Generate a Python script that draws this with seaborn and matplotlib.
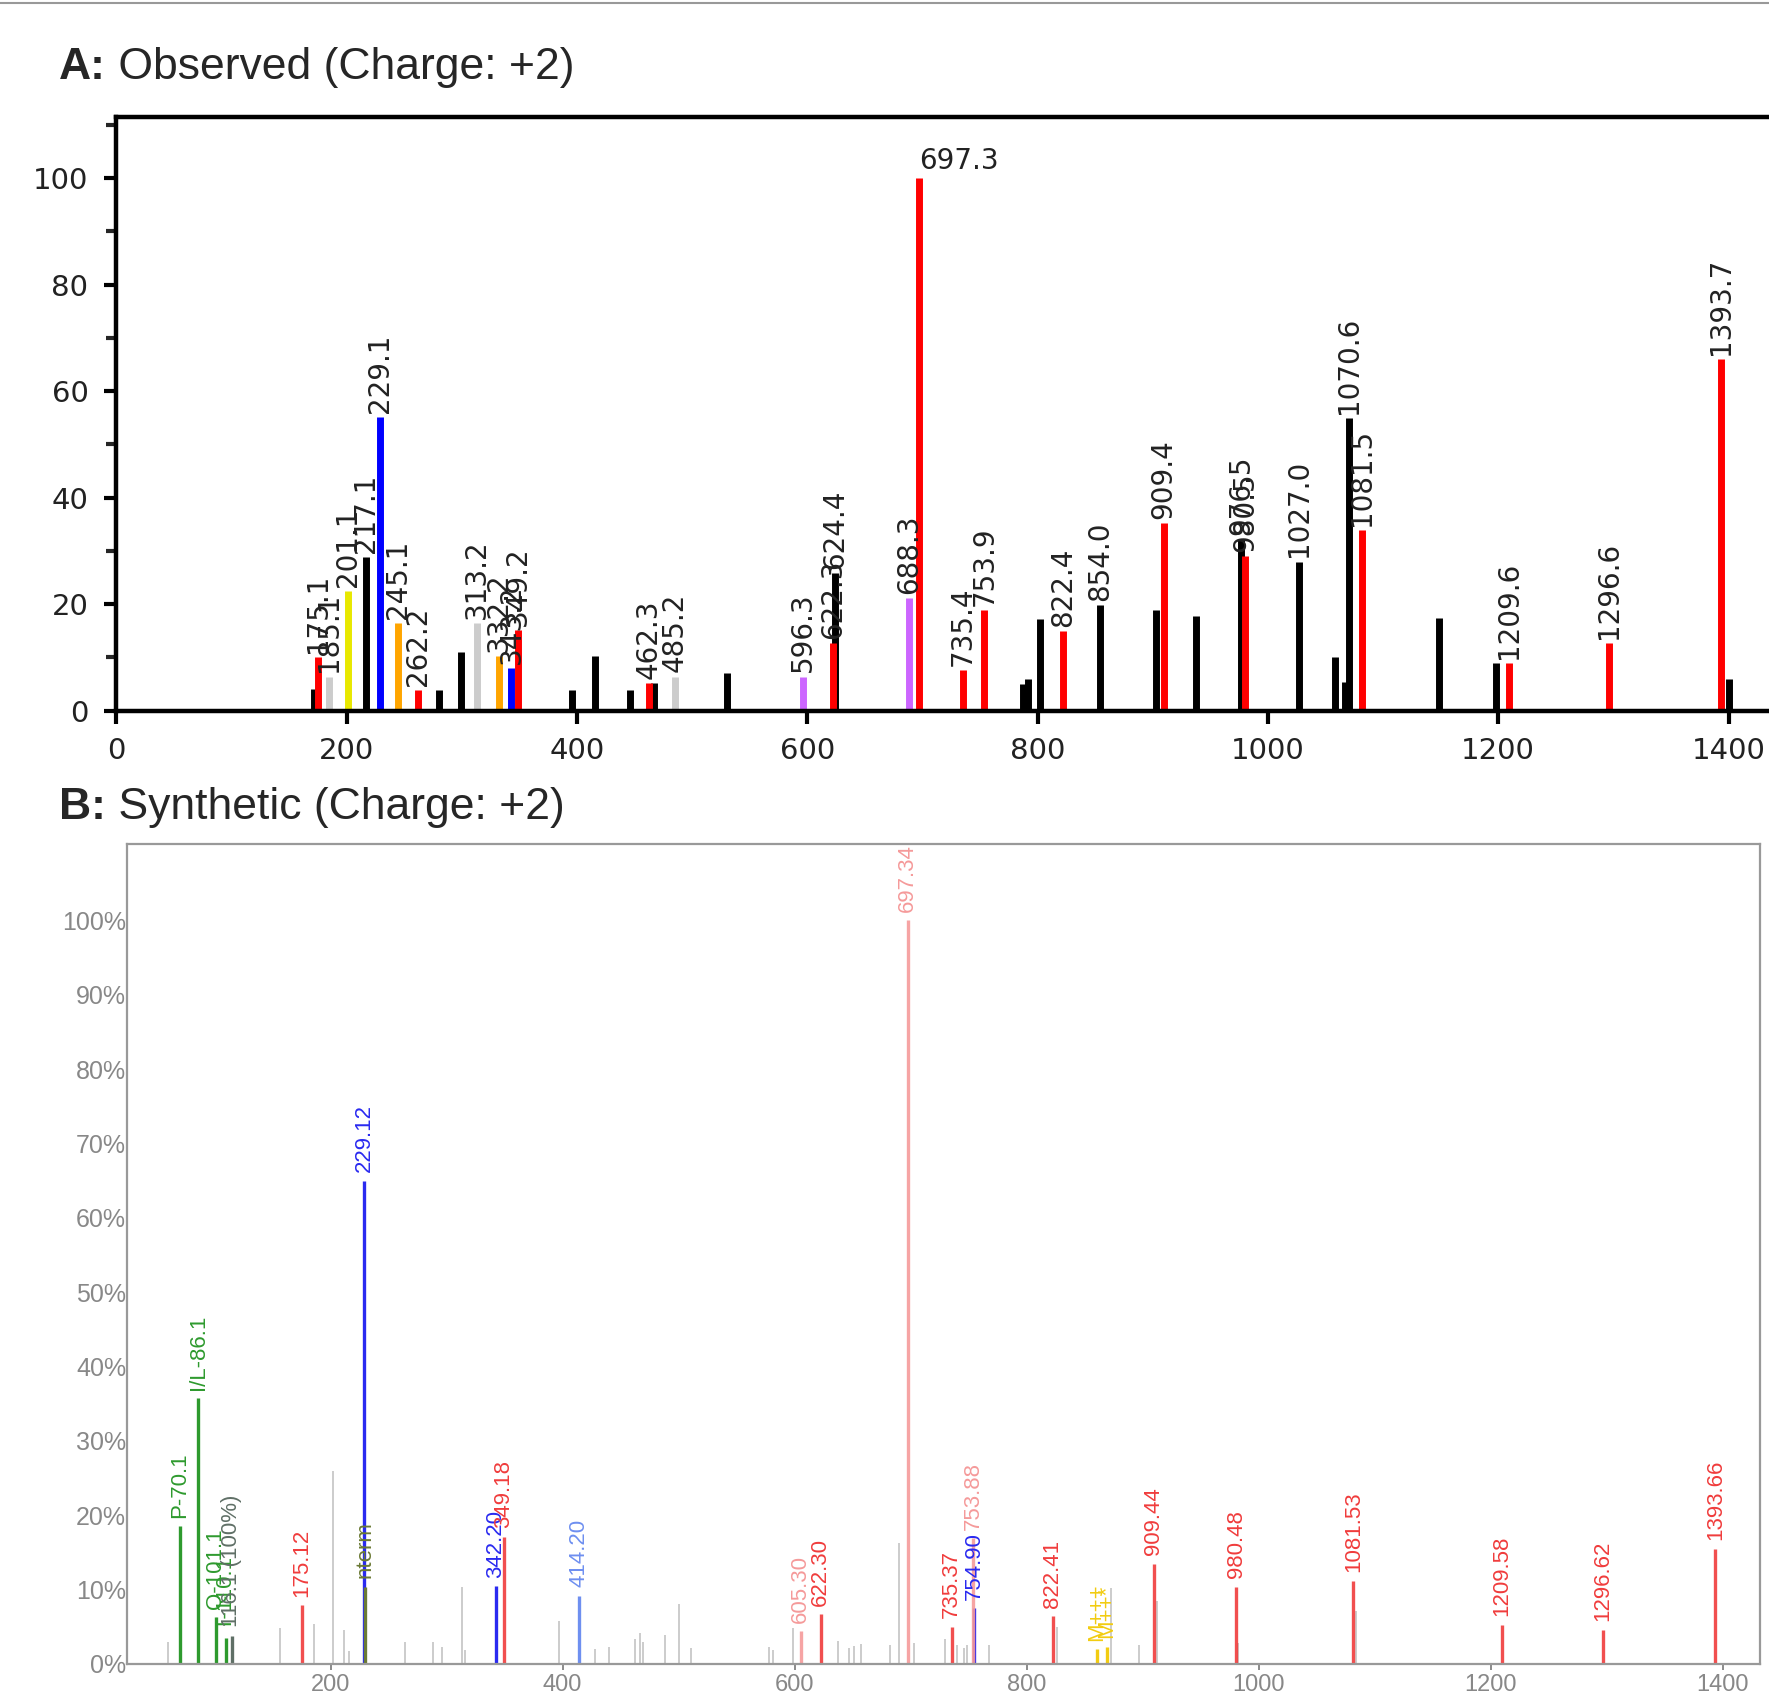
import matplotlib
matplotlib.use("Agg")
import numpy as np
import pandas as pd
import seaborn as sns
import matplotlib.pyplot as plt
from matplotlib.lines import Line2D
from matplotlib.ticker import MultipleLocator, FuncFormatter

# ---- panel A: observed spectrum ----
obs_mz = [172, 175.1, 185.1, 201.1, 217.1, 229.1, 245.1, 262.2, 280, 299,
          313.2, 332.2, 343.2, 349.2, 396, 416, 446, 462.3, 467, 485.2,
          530, 596.3, 622.3, 624.4, 688.3, 697.3, 735.4, 753.9, 787, 792,
          802, 822.4, 854.0, 903, 909.4, 938, 976.5, 980.5, 1027.0, 1058,
          1067, 1070.6, 1081.5, 1149, 1198, 1209.6, 1296.6, 1393.7, 1400]
obs_int = [4, 10, 6.4, 22.4, 28.9, 55.2, 16.4, 3.9, 3.9, 11.1,
           16.4, 10.2, 8, 15.2, 3.9, 10.2, 3.9, 5.2, 5.2, 6.4,
           7, 6.4, 12.7, 25.8, 21.2, 100, 7.6, 18.9, 5, 6,
           17.2, 15, 19.9, 18.9, 35.2, 17.8, 32.2, 29, 28, 10,
           5.3, 55, 33.9, 17.4, 8.9, 8.9, 12.7, 66, 6]
obs_ion = ["k", "y", "o", "i", "k", "b", "a", "y", "k", "k",
           "o", "a", "b", "y", "k", "k", "k", "y", "k", "o",
           "k", "p", "y", "k", "p", "y", "y", "y", "k", "k",
           "k", "y", "k", "k", "y", "k", "k", "y", "k", "k",
           "k", "k", "y", "k", "k", "y", "y", "y", "k"]
obs_lab = ["", "175.1", "185.1", "201.1", "217.1", "229.1", "245.1", "262.2", "", "",
           "313.2", "332.2", "343.2", "349.2", "", "", "", "462.3", "", "485.2",
           "", "596.3", "622.3", "624.4", "688.3", "697.3", "735.4", "753.9", "", "",
           "", "822.4", "854.0", "", "909.4", "", "976.5", "980.5", "1027.0", "",
           "", "1070.6", "1081.5", "", "", "1209.6", "1296.6", "1393.7", ""]
obs_colors = {"k": "black", "y": "#ff0000", "b": "#0000ff", "i": "#e8e800",
              "a": "#ffa500", "o": "#cccccc", "p": "#cc66ff"}

# ---- panel B: synthetic spectrum ----
syn_mz = [60, 156.5, 185.8, 202.5, 212, 216, 264, 288, 296, 313, 316, 396.5,
          428, 439.7, 462.6, 467, 469.7, 488.4, 500, 510.8, 577.7, 581, 598.4,
          637.8, 647, 651, 657, 681.8, 689.6, 702.5, 729.2, 739.8, 745.6, 748.5,
          767.2, 826, 873, 896.4, 912, 982, 1084,
          70.1, 86.1, 101.1, 110.1, 115, 175.12, 229.12, 229.5, 342.20, 349.18,
          414.20, 605.30, 622.30, 697.34, 735.37, 753.88, 754.90, 822.41,
          860.7, 869, 909.44, 980.48, 1081.53, 1209.58, 1296.62, 1393.66]
syn_int = [3, 4.8, 5.4, 26, 4.5, 1.8, 2.9, 3, 2.3, 10.3, 1.9, 5.8,
           2, 2.3, 3.3, 4.1, 3, 3.9, 8.1, 2.2, 2.3, 1.9, 4.8,
           3.1, 2.2, 2.4, 2.7, 2.6, 16.3, 2.8, 3.3, 2.6, 2.1, 2.6,
           2.6, 5, 10.2, 2.6, 8.4, 2.8, 7.1,
           18.5, 35.7, 6.3, 3.5, 3.8, 7.9, 65, 10.4, 10.5, 17.1,
           9.2, 4.4, 6.7, 100, 5, 16.9, 7.5, 6.4,
           2, 2.3, 13.5, 10.4, 11.2, 5.3, 4.6, 15.5]
syn_ion = ["gray"] * 41 + [
    "imm", "imm", "imm", "imm", "prec", "y", "b", "nterm", "b", "y",
    "b2", "y2", "y", "y2", "y", "y2", "b", "y",
    "m", "m", "y", "y", "y", "y", "y", "y"]
syn_lab = [""] * 41 + [
    "P-70.1", "I/L-86.1", "Q-101.1", "T-110.1", "116.1 (100%)", "175.12", "229.12",
    "nterm", "342.20", "349.18", "414.20", "605.30", "622.30", "697.34", "735.37",
    "753.88", "754.90", "822.41", "M+++", "M++*", "909.44", "980.48", "1081.53",
    "1209.58", "1296.62", "1393.66"]
syn_colors = {"gray": "#c8c8c8", "imm": "#2e9a2e", "prec": "#5f6f66",
              "y": "#f03c3c", "y2": "#f59a9a", "b": "#2a2af0", "b2": "#6e8ff0",
              "nterm": "#6b7a35", "m": "#f2cc10"}

obs = pd.DataFrame({"mz": obs_mz, "intensity": obs_int, "ion": obs_ion, "label": obs_lab})
syn = pd.DataFrame({"mz": syn_mz, "intensity": syn_int, "ion": syn_ion, "label": syn_lab})

sns.set_theme(style="white")
plt.rcParams["font.family"] = ["DejaVu Sans"]
title_font = ["Liberation Sans", "DejaVu Sans"]

W, H = 1568.0, 1499.0
fig = plt.figure(figsize=(17.69, 16.91), dpi=100)
fig.add_artist(Line2D([0, 1], [0.9985, 0.9985], color="#999999", lw=1.5))

# panel A
axA = fig.add_axes([103 / W, 1 - 630 / H, 1470 / W, (630 - 104) / H])
for ion, grp in obs.groupby("ion", sort=False):
    axA.vlines(grp["mz"], 0, grp["intensity"], colors=obs_colors[ion], lw=5, zorder=2)
for _, r in obs[obs["label"] != ""].iterrows():
    if r["intensity"] >= 100:
        axA.annotate(r["label"], (r["mz"], r["intensity"]), xytext=(0, 2),
                     textcoords="offset points", ha="left", va="bottom",
                     fontsize=20, color="#222222")
    else:
        axA.annotate(r["label"], (r["mz"], r["intensity"]), xytext=(0, 3),
                     textcoords="offset points", ha="center", va="bottom",
                     rotation=90, fontsize=20, color="#222222")
axA.set_xlim(0, 1440)
axA.set_ylim(0, 111.4)
axA.xaxis.set_major_locator(MultipleLocator(200))
axA.yaxis.set_major_locator(MultipleLocator(20))
axA.yaxis.set_minor_locator(MultipleLocator(10))
axA.tick_params(axis="both", which="major", direction="out", length=9, width=3,
                labelsize=21, labelcolor="#222222", color="black",
                bottom=True, left=True)
axA.tick_params(axis="y", which="minor", direction="out", length=7, width=3, left=True)
axA.tick_params(axis="x", pad=10)
axA.tick_params(axis="y", pad=11)
for s in ["left", "top", "bottom", "right"]:
    axA.spines[s].set_linewidth(3.2)
    axA.spines[s].set_color("black")
axA.grid(False)

tA = fig.text(52 / W, 1 - 60 / H, "A:", fontsize=32, fontweight="bold",
              family=title_font, va="center")
axA.annotate(" Observed (Charge: +2)", xy=(1, 0), xycoords=tA, va="bottom",
             ha="left", fontsize=32, family=title_font, annotation_clip=False)

# panel B
axB = fig.add_axes([113 / W, 1 - 1475 / H, (1560 - 113) / W, (1475 - 748) / H])
for ion, grp in syn.groupby("ion", sort=False):
    lw = 1.3 if ion == "gray" else 2.4
    axB.vlines(grp["mz"], 0, grp["intensity"], colors=syn_colors[ion], lw=lw,
               alpha=0.9 if ion in ("y", "y2") else 1, zorder=2)
for _, r in syn[syn["label"] != ""].iterrows():
    axB.annotate(r["label"], (r["mz"], r["intensity"]), xytext=(0, 6),
                 textcoords="offset points", ha="center", va="bottom",
                 rotation=90, fontsize=16, color=syn_colors[r["ion"]],
                 family=title_font, annotation_clip=False)
axB.set_xlim(25, 1432)
axB.set_ylim(0, 110.3)
axB.xaxis.set_major_locator(MultipleLocator(200))
axB.yaxis.set_major_locator(MultipleLocator(10))
axB.yaxis.set_major_formatter(FuncFormatter(lambda v, p: f"{v:.0f}%" if v <= 100 else ""))
axB.tick_params(axis="x", direction="out", length=4, width=1.2, color="#777777",
                labelsize=17, labelcolor="#888888", pad=3, bottom=True)
axB.tick_params(axis="y", length=0, pad=1, labelsize=18, labelcolor="#888888")
for lbl in axB.get_xticklabels() + axB.get_yticklabels():
    lbl.set_family(title_font)
for s in ["left", "top", "bottom", "right"]:
    axB.spines[s].set_linewidth(1.6)
    axB.spines[s].set_color("#999999")
axB.grid(False)

tB = fig.text(52 / W, 1 - 716 / H, "B:", fontsize=32, fontweight="bold",
              family=title_font, va="center")
axB.annotate(" Synthetic (Charge: +2)", xy=(1, 0), xycoords=tB, va="bottom",
             ha="left", fontsize=32, family=title_font, annotation_clip=False)

fig.savefig("out.png", dpi=100)
